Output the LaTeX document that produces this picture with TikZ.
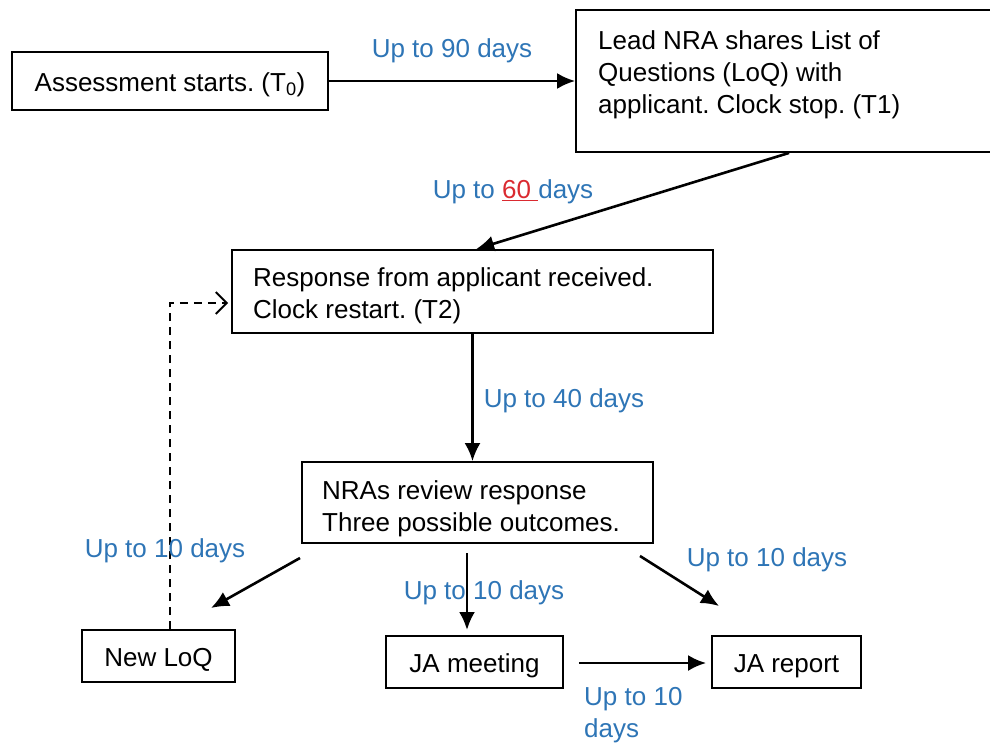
\documentclass[tikz,border=0pt]{standalone}
\usepackage{fontspec}
\setmainfont{Liberation Sans}
\usetikzlibrary{arrows.meta,calc}
\definecolor{lblue}{RGB}{46,117,182}
\definecolor{lred}{RGB}{218,42,48}
\frenchspacing
\tikzset{
  every node/.style={font=\fontsize{26}{32}\selectfont},
  box/.style={draw, line width=1.8pt, inner sep=0pt},
  onel/.style={text height=27pt, text depth=5.5pt},
  txt/.style={inner sep=0pt, align=left},
  lbl/.style={inner sep=0pt, text=lblue},
  arr/.style={line width=2.6pt, -{Latex[length=18pt,width=16pt]}},
  darr/.style={line width=1.7pt, dash pattern=on 8pt off 6pt,
    -{Straight Barb[length=11pt,width=22pt,line width=1.9pt]}}
}
\begin{document}
\begin{tikzpicture}[x=1pt,y=-1pt]
\useasboundingbox (0,0) rectangle (990,744);
% boxes
\node[box, onel, minimum width=316, minimum height=58] (b1) at (170,81) {Assessment starts. (T\textsubscript{0})};
\node[box, minimum width=424, minimum height=142] (b2) at (788,81) {};
\node[txt, anchor=west] (t2) at (598,75) {Lead NRA shares List of\\Questions (LoQ) with\\applicant. Clock stop. (T1)};
\node[box, minimum width=481, minimum height=83] (b3) at (472.5,291.5) {};
\node[txt, anchor=west] (t3) at (253,296) {Response from applicant received.\\Clock restart. (T2)};
\node[box, minimum width=351, minimum height=81] (b4) at (477.5,502.5) {};
\node[txt, anchor=west] (t4) at (322,509) {NRAs review response\\Three possible outcomes.};
\node[box, onel, minimum width=153, minimum height=52] (b5) at (158.5,656) {New LoQ};
\node[box, onel, minimum width=177, minimum height=52] (b6) at (474.5,662) {JA meeting};
\node[box, onel, minimum width=149, minimum height=52] (b7) at (786.5,662) {JA report};
% free ends
\coordinate (c4a) at (300,558);
\coordinate (c4b) at (211,608);
\coordinate (c5a) at (467,553);
\coordinate (c5b) at (467,630);
\coordinate (c6a) at (640,556);
\coordinate (c6b) at (719,606);
% connectors
\draw[arr] (b1.east) -- (b1.east -| b2.west);
\draw[arr] ($(b2.south west)+(214,0)$) -- ($(b3.north west)+(245,0)$);
\draw[arr] (b3.south) -- (b3.south |- b4.north);
\draw[arr] (c4a) -- (c4b);
\draw[arr] (c5a) -- (c5b);
\draw[arr] (c6a) -- (c6b);
\draw[arr] ($(b6.east)+(15,1)$) -- ($(b7.west)+(-5,1)$);
\draw[darr] ($(b5.north)+(11.5,0)$) |- ($(b3.west)+(-3,11.5)$);
% labels
\node[lbl] (l1) at (452,51) {Up to 90 days};
\node[lbl] (l2) at (513,192) {Up to {\color{lred}\underline{60\ }}days};
\node[lbl] (l3) at (564,401) {Up to 40 days};
\node[lbl] (l4) at (165,551) {Up to 10 days};
\node[lbl] (l5) at (484,593) {Up to 10 days};
\node[lbl] (l6) at (767,560) {Up to 10 days};
\node[lbl, align=left, anchor=west] (l7) at (584,715) {Up to 10\\days};
\end{tikzpicture}
\end{document}
